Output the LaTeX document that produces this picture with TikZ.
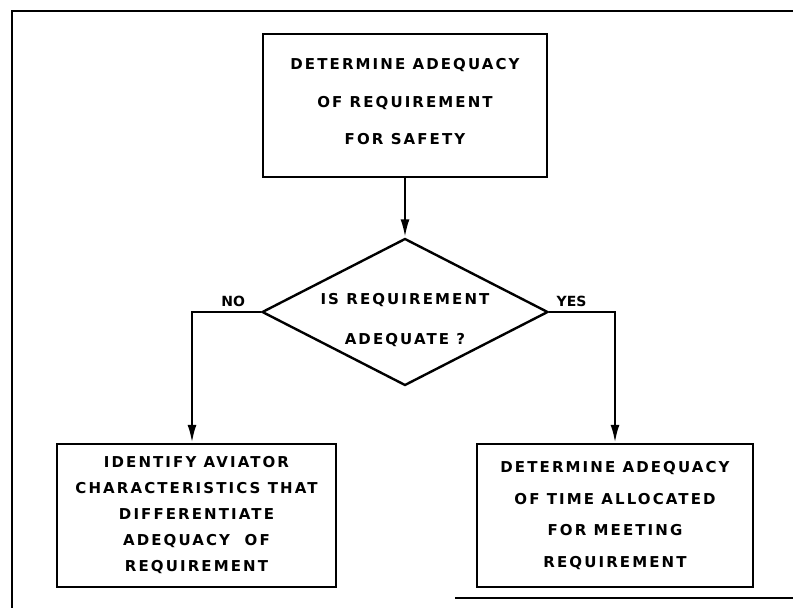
\documentclass[tikz,border=0pt]{standalone}
\usepackage{fontspec}
\setsansfont{DejaVu Sans}[LetterSpace=14]
\newfontfamily\answerfont{DejaVu Sans}
\usetikzlibrary{shapes.geometric, arrows.meta}

% lettering at a given line distance
\def\lettering#1{\sffamily\bfseries\fontsize{15}{#1}\selectfont}

\begin{document}
\begin{tikzpicture}[x=1pt, y=-1pt, line width=2.4pt,
	box/.style={draw, rectangle, align=center, inner sep=0pt, minimum height=143pt},
	decision/.style={draw, diamond, inner sep=0pt, minimum width=286pt, minimum height=147pt},
	flow/.style={-{Latex[length=18pt, width=9pt]}},
	answer/.style={font=\answerfont\bfseries\fontsize{14}{16}\selectfont, inner sep=4pt}]
	\useasboundingbox (0, 0) rectangle (793, 608);

	% frame
	\draw (12, 608) -- (12, 11) -- (793, 11);
	\draw (455, 598) -- (793, 598);

	% diagram
	\node[box, minimum width=284pt, font=\lettering{37.5}, text depth=8pt] (safety) at (405, 105.5)
		{DETERMINE ADEQUACY\\OF REQUIREMENT\\FOR SAFETY};
	\node[decision] (adequate) at (405, 312) {};
	\node[align=center, inner sep=0pt, font=\lettering{40}] (question) at (405, 320)
		{IS REQUIREMENT\\ADEQUATE ?};
	\node[box, minimum width=279pt, font=\lettering{26}] (aviator) at (196.5, 515.5)
		{IDENTIFY AVIATOR\\CHARACTERISTICS THAT\\DIFFERENTIATE\\ADEQUACY\ \ OF\\REQUIREMENT};
	\node[box, minimum width=276pt, font=\lettering{31.5}] (time) at (615, 515.5)
		{DETERMINE ADEQUACY\\OF TIME ALLOCATED\\FOR MEETING\\REQUIREMENT};

	\draw[flow] (safety) -- (adequate);
	\draw[flow] (adequate.west) -| node[answer, above, pos=.2] {NO} ([xshift=-4.5pt]aviator.north);
	\draw[flow] (adequate.east) -| node[answer, above, pos=.17] {YES} (time.north);
\end{tikzpicture}
\end{document}
